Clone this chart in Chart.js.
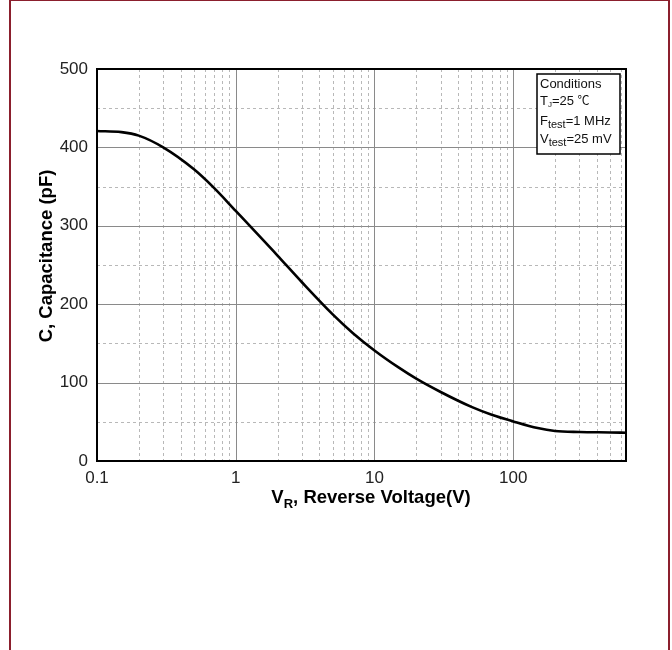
<!DOCTYPE html>
<html>
<head>
<meta charset="utf-8">
<script src="https://cdn.jsdelivr.net/npm/chart.js@4.4.0/dist/chart.umd.min.js"></script>
<style>
  html, body { margin: 0; padding: 0; background: #fff; overflow: hidden; }
  #wrap { position: relative; width: 672px; height: 650px; }
  #frame { position: absolute; left: 9px; top: -1px; width: 661px; height: 700px;
           border: 2px solid #8b1f2d; box-sizing: border-box; pointer-events: none; }
</style>
</head>
<body>
<div id="wrap">
  <canvas id="chart" width="672" height="650"></canvas>
  <div id="frame"></div>
</div>
<script>
// reverse voltage (V) and junction capacitance (pF)
const voltage     = [0.1, 0.15, 0.2, 0.3, 0.5, 0.7, 1, 1.5, 2, 3, 5, 7, 10, 15, 20, 30, 50, 70, 100, 150, 200, 300, 500, 650];
const capacitance = [421, 419.5, 415, 400, 372, 348, 319, 286, 262, 228, 187, 163, 141, 119, 105, 88, 69, 59, 50.5, 42, 38.3, 37, 36.4, 36];

const xTicks = [0.1, 1, 10, 100];
const yMajor = [100, 200, 300, 400];
const yMinor = [50, 150, 250, 350, 450];
const xMax = 650;

const FONT = '"Liberation Sans", Arial, sans-serif';

function drawRich(ctx, x, y, parts) {
    parts.forEach(p => {
        ctx.font = p.font;
        ctx.fillText(p.t, x, y + (p.dy || 0));
        x += ctx.measureText(p.t).width;
    });
}

const gridPlugin = {
    id: 'grid',
    beforeDatasetsDraw(chart) {
        const { ctx, chartArea: a, scales: { x, y } } = chart;
        ctx.save();
        ctx.lineWidth = 1;
        // dashed minor lines
        ctx.strokeStyle = '#b8b8b8';
        ctx.setLineDash([3, 3]);
        yMinor.forEach(v => {
            const py = Math.round(y.getPixelForValue(v)) + 0.5;
            ctx.beginPath(); ctx.moveTo(a.left, py); ctx.lineTo(a.right, py); ctx.stroke();
        });
        xTicks.forEach(d => {
            for (let k = 2; k <= 9; k++) {
                const v = d * k;
                if (v >= xMax) break;
                const px = Math.round(x.getPixelForValue(v)) + 0.5;
                ctx.beginPath(); ctx.moveTo(px, a.top); ctx.lineTo(px, a.bottom); ctx.stroke();
            }
        });
        // solid major lines
        ctx.setLineDash([]);
        ctx.strokeStyle = '#8a8a8a';
        yMajor.forEach(v => {
            const py = Math.round(y.getPixelForValue(v)) + 0.5;
            ctx.beginPath(); ctx.moveTo(a.left, py); ctx.lineTo(a.right, py); ctx.stroke();
        });
        xTicks.slice(1).forEach(v => {
            const px = Math.round(x.getPixelForValue(v)) + 0.5;
            ctx.beginPath(); ctx.moveTo(px, a.top); ctx.lineTo(px, a.bottom); ctx.stroke();
        });
        ctx.restore();
    },
    afterDatasetsDraw(chart) {
        const { ctx, chartArea: a } = chart;
        ctx.save();
        ctx.strokeStyle = '#000';
        ctx.lineWidth = 2;
        ctx.strokeRect(a.left, a.top, a.right - a.left, a.bottom - a.top);
        ctx.restore();
    },
    afterDraw(chart) {
        const { ctx, chartArea: a } = chart;
        ctx.save();
        ctx.textAlign = 'left';
        ctx.textBaseline = 'alphabetic';

        // conditions box
        const bx = a.right - 89, by = a.top + 5, bw = 83, bh = 80;
        ctx.fillStyle = '#fff';
        ctx.fillRect(bx, by, bw, bh);
        ctx.strokeStyle = '#000';
        ctx.lineWidth = 1.5;
        ctx.strokeRect(bx, by, bw, bh);
        ctx.fillStyle = '#111';
        const f = '13px ' + FONT, fs = '11px ' + FONT, fj = '8px ' + FONT;
        drawRich(ctx, bx + 3, by + 14, [{ t: 'Conditions', font: f }]);
        drawRich(ctx, bx + 3, by + 31, [
            { t: 'T', font: f }, { t: 'J', font: fj, dy: 2 }, { t: '=25 ', font: f },
            { t: '\u2103', font: '12px "Noto Sans CJK SC", ' + FONT }
        ]);
        drawRich(ctx, bx + 3, by + 51, [
            { t: 'F', font: f }, { t: 'test', font: fs, dy: 3 }, { t: '=1 MHz', font: f }
        ]);
        drawRich(ctx, bx + 3, by + 69, [
            { t: 'V', font: f }, { t: 'test', font: fs, dy: 3 }, { t: '=25 mV', font: f }
        ]);

        // axis titles
        ctx.fillStyle = '#000';
        const tb = 'bold 18.5px ' + FONT;
        ctx.save();
        ctx.translate(52, 256);
        ctx.rotate(-Math.PI / 2);
        ctx.textAlign = 'center';
        ctx.font = tb;
        ctx.fillText('C, Capacitance (pF)', 0, 0);
        ctx.restore();

        ctx.textAlign = 'left';
        const parts = [
            { t: 'V', font: tb }, { t: 'R', font: 'bold 13px ' + FONT, dy: 5 },
            { t: ', Reverse Voltage(V)', font: tb }
        ];
        let w = 0;
        parts.forEach(p => { ctx.font = p.font; w += ctx.measureText(p.t).width; });
        drawRich(ctx, 371 - w / 2, 503, parts);
        ctx.restore();
    }
};

new Chart(document.getElementById('chart'), {
    type: 'line',
    data: {
        datasets: [{
            data: voltage.map((v, i) => ({ x: v, y: capacitance[i] })),
            borderColor: '#000',
            borderWidth: 2.6,
            pointRadius: 0,
            fill: false,
            cubicInterpolationMode: 'monotone'
        }]
    },
    options: {
        responsive: false,
        animation: false,
        devicePixelRatio: 1,
        layout: { padding: { top: 69, right: 46, left: 0, bottom: 0 } },
        plugins: { legend: { display: false }, tooltip: { enabled: false } },
        scales: {
            x: {
                type: 'logarithmic',
                min: 0.1,
                max: xMax,
                grid: { display: false, drawTicks: false },
                border: { display: false },
                afterBuildTicks: s => { s.ticks = xTicks.map(v => ({ value: v })); },
                afterFit: s => { s.height = 189; },
                ticks: {
                    autoSkip: false, maxRotation: 0, padding: 7,
                    color: '#222', font: { size: 17, family: FONT },
                    callback: v => String(v)
                }
            },
            y: {
                min: 0,
                max: 500,
                grid: { display: false, drawTicks: false },
                border: { display: false },
                afterFit: s => { s.width = 97; },
                ticks: {
                    stepSize: 100, padding: 9,
                    color: '#222', font: { size: 17, family: FONT }
                }
            }
        }
    },
    plugins: [gridPlugin]
});
</script>
</body>
</html>
